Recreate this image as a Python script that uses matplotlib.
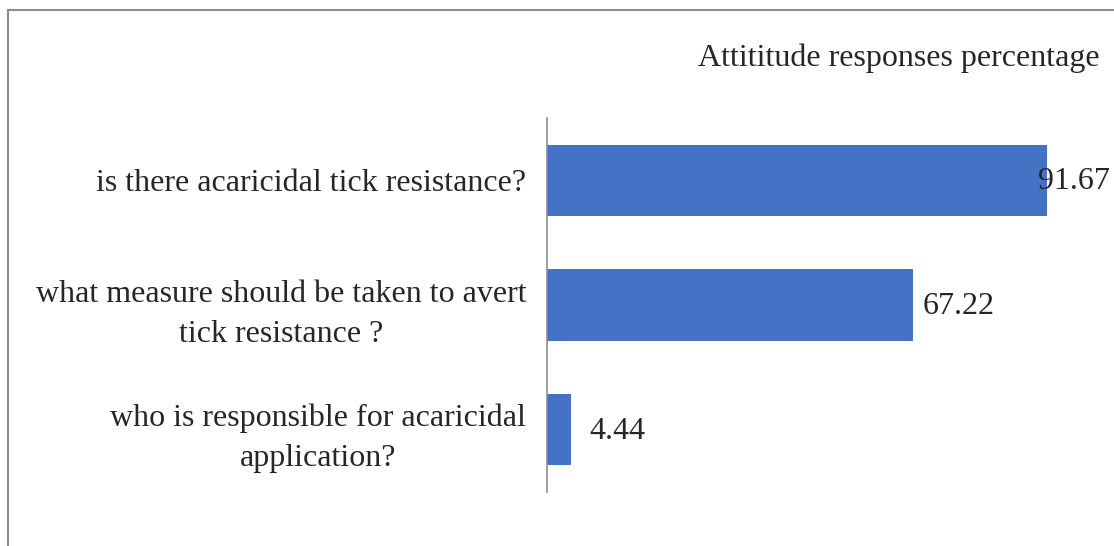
import matplotlib
matplotlib.use("Agg")
import matplotlib.pyplot as plt
from matplotlib.patches import Rectangle

# attitude questions (top to bottom) and share of responses
questions = [
    "is there acaricidal tick resistance?",
    "what measure should be taken to avert\ntick resistance ?",
    "who is responsible for acaricidal\napplication?",
]
percent = [91.67, 67.22, 4.44]
title = "Attititude responses percentage"

plt.rcParams["font.family"] = ["Liberation Serif", "DejaVu Serif"]
fs = 23

fig = plt.figure(figsize=(11.14, 5.46), dpi=100)
ax = fig.add_axes([547 / 1114, 1 - 492 / 546, 545 / 1114, 374 / 546])

pos = list(range(len(questions)))
ax.barh(pos, percent, height=0.57, color="#4472C4", zorder=2)
ax.set_ylim(len(questions) - 0.5, -0.5)
ax.set_xlim(0, 100)

ax.set_yticks(pos)
ax.set_yticklabels(questions, fontsize=fs, color="#262626")
for lab in ax.get_yticklabels():
    lab.set_multialignment("center")
    lab.set_linespacing(1.5)
ax.tick_params(axis="y", length=0, pad=15)
ax.tick_params(axis="x", bottom=False, labelbottom=False)

for s in ["top", "right", "bottom"]:
    ax.spines[s].set_visible(False)
ax.spines["left"].set_color("#8c8c8c")
ax.spines["left"].set_linewidth(1.2)

# value labels beside bars; the longest one is pulled back onto the bar end
offsets = [-6, 7, 13]
for y, v, off in zip(pos, percent, offsets):
    ax.annotate(f"{v:.2f}", (v, y), xytext=(off, -1), textcoords="offset points",
                ha="left", va="center", fontsize=fs, color="#262626")

fig.text(1100 / 1114, 1 - 58 / 546, title, ha="right", va="center",
         fontsize=fs, color="#262626")

# chart frame
fig.patches.append(Rectangle((7.5 / 1114, -0.1), 1.2, 1.1 - 10.5 / 546,
                             transform=fig.transFigure, fill=False,
                             edgecolor="#8c8c8c", linewidth=1.5))

fig.savefig("out.png", dpi=100)
